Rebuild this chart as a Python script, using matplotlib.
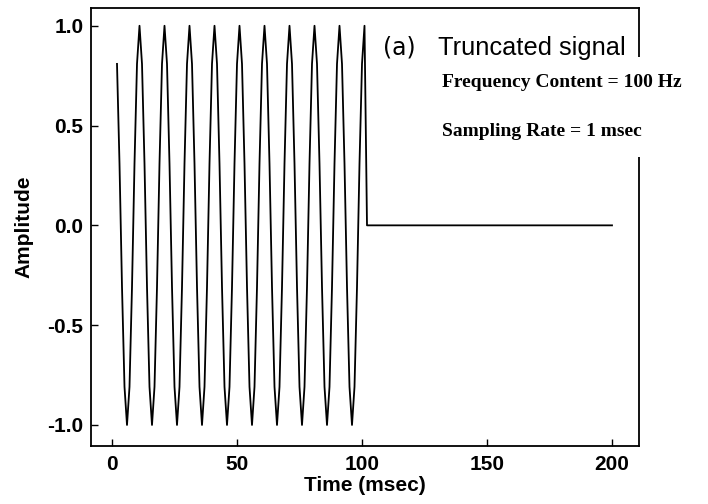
import numpy as np
import matplotlib
matplotlib.use("Agg")
import matplotlib.pyplot as plt

t_start_ms = 2
cycle = [0.809, 0.309, -0.309, -0.809, -1.0, -0.809, -0.309, 0.309, 0.809, 1.0]
amplitude = cycle * 10 + [0.0] * 99
time_ms = np.arange(t_start_ms, t_start_ms + len(amplitude))

x_ticks = [0, 50, 100, 150, 200]
y_ticks = [-1.0, -0.5, 0.0, 0.5, 1.0]
y_tick_labels = ["-1.0", "-0.5", "0.0", "0.5", "1.0"]

W, H = 708, 504
fig = plt.figure(figsize=(W/100, H/100), dpi=100)
L, R, T, B = 91, 639, 8, 445.5
ax = fig.add_axes([L/W, 1 - B/H, (R-L)/W, (B-T)/H])

ax.plot(time_ms, amplitude, color="black", lw=1.3)

ax.set_xlim(-8.4, 210.8)
ax.set_ylim(-1.103, 1.089)
ax.set_xticks(x_ticks)
ax.set_xticklabels([str(v) for v in x_ticks])
ax.set_yticks(y_ticks)
ax.set_yticklabels(y_tick_labels)
ax.tick_params(direction="in", length=5, width=1, labelsize=15)
ax.tick_params(axis="x", pad=6.5)
ax.tick_params(axis="y", pad=5.5)
for lab in ax.get_xticklabels() + ax.get_yticklabels():
    lab.set_fontfamily("Liberation Sans")
    lab.set_fontweight("bold")
for s in ax.spines.values():
    s.set_linewidth(1.3)

ax.set_xlabel("Time (msec)", fontsize=15, fontweight="bold", family="Liberation Sans", va="top")
ax.xaxis.set_label_coords(0.5, -(476 - B) / (B - T))
ax.set_ylabel("Amplitude", fontsize=15, fontweight="bold", family="Liberation Sans")
ax.yaxis.set_label_coords(-(L - 33) / (R - L), 0.5)

box = dict(facecolor="white", edgecolor="none", pad=12)
fig.text(442/W, 1 - 87/H, "Frequency Content = 100 Hz", fontsize=14,
         family="Liberation Serif", fontweight="bold", va="baseline", ha="left", bbox=box)
fig.text(442/W, 1 - 136/H, "Sampling Rate = 1 msec", fontsize=14,
         family="Liberation Serif", fontweight="bold", va="baseline", ha="left", bbox=box)
fig.text(383/W, 1 - 55/H, "(a)", fontsize=17, family="DejaVu Sans", va="baseline", ha="left",
         zorder=5)
fig.text(438/W, 1 - 55/H, "Truncated signal", fontsize=18.3, family="Liberation Sans",
         va="baseline", ha="left", zorder=5)

fig.savefig("out.png", dpi=100)
